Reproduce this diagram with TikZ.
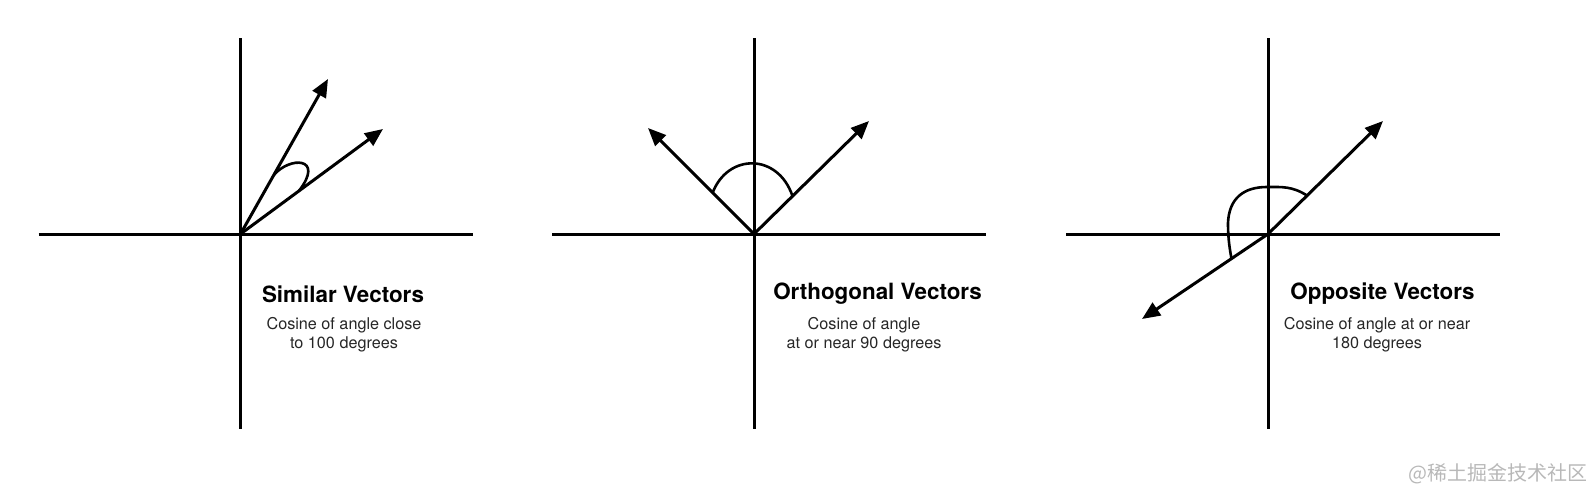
\documentclass[tikz,border=0pt]{standalone}
\usepackage{fontspec}
\setmainfont{TeX Gyre Heros}
\newfontfamily\cjkfont{Noto Sans CJK SC}
\usetikzlibrary{arrows.meta,calc}
\definecolor{MarkClr}{rgb}{0.72,0.72,0.72}

\begin{document}
\begin{tikzpicture}[x=0.5pt,y=-0.5pt]
\tikzset{axis/.style={line width=1.5pt,black},
  vec/.style={line width=1.5pt,-{Triangle[length=9pt,width=7.5pt]}},
  ang/.style={line width=1.3pt},
  title/.style={font=\fontsize{11.2}{13}\selectfont\bfseries},
  note/.style={font=\fontsize{8.1}{9.3}\selectfont,align=center,text=black!85}}
\useasboundingbox (0,0) rectangle (1586,498);

\coordinate (O1) at (240.5,234);
\coordinate (O2) at (754,234);
\coordinate (O3) at (1268,234);

\coordinate (A1) at (328,79);
\coordinate (B1) at (383,129);
\coordinate (A2) at (648,128);
\coordinate (B2) at (869,121);
\coordinate (A3) at (1383,121);
\coordinate (B3) at (1142,319);

\foreach \o in {O1,O2,O3}{
  \draw[axis] ($(\o)+(-202,0)$) -- ($(\o)+(232,0)$);
  \draw[axis] ($(\o)+(0,-196)$) -- ($(\o)+(0,195)$);
}

\draw[vec] (O1) -- (A1);
\draw[vec] (O1) -- (B1);
\draw[vec] (O2) -- (A2);
\draw[vec] (O2) -- (B2);
\draw[vec] (O3) -- (A3);
\draw[vec] (O3) -- (B3);

\draw[ang] ($(O1)!0.38!(A1)$) .. controls (290,156) and (325,157) .. ($(O1)!0.41!(B1)$);
\draw[ang] ($(O2)!0.39!(A2)$) .. controls (728,153) and (778,153) .. ($(O2)!0.335!(B2)$);
\draw[ang] ($(O3)!0.34!(A3)$) .. controls (1292,186) and (1282,187) .. (1267,187)
  .. controls (1244,187) and (1229,198) .. (1228,223)
  .. controls (1228,240) and (1230,250) .. ($(O3)!0.29!(B3)$);

\node[title] (t1) at (343,294) {Similar Vectors};
\node[note] (n1) at (344,335) {Cosine of angle close\\to 100 degrees};
\node[title] (t2) at (877.5,294) {Orthogonal Vectors};
\node[note] (n2) at (864,335) {Cosine of angle\\at or near 90 degrees};
\node[title] (t3) at (1382.5,294) {Opposite Vectors};
\node[note] (n3) at (1377,335) {Cosine of angle at or near\\180 degrees};

\node[font=\cjkfont\fontsize{10}{12}\selectfont,text=MarkClr] (wm) at (1498,474) {@稀土掘金技术社区};
\end{tikzpicture}
\end{document}
